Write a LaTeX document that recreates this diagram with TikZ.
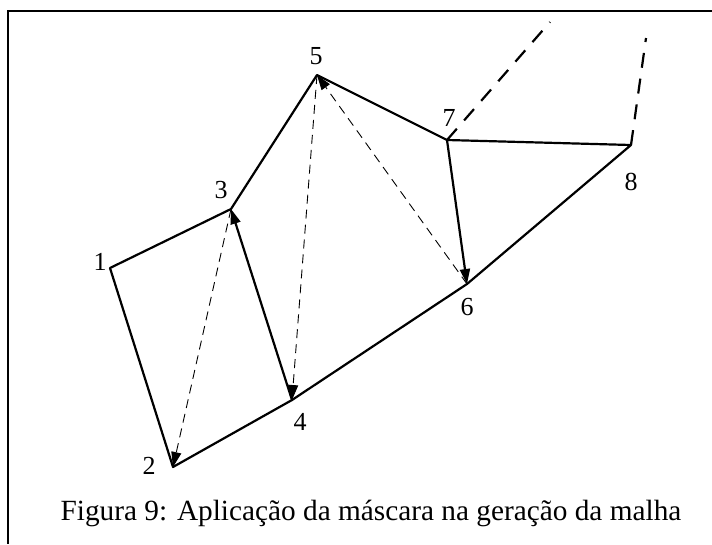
\documentclass[tikz,border=0pt]{standalone}
\usepackage{fontspec}
\setmainfont{Liberation Serif}
\usetikzlibrary{arrows.meta}
\begin{document}
\begin{tikzpicture}[x=1pt,y=-1pt,
  edge/.style={line width=2.2pt,line cap=round,line join=round},
  diag/.style={line width=0.9pt,dash pattern=on 9pt off 6pt},
  ext/.style={line width=2.2pt,dash pattern=on 15pt off 11pt},
  tip/.style={-{Triangle[length=15pt,width=10pt]}},
  lbl/.style={font=\fontsize{26}{28}\selectfont,inner sep=0pt}]
\useasboundingbox (0,0) rectangle (712,544);
% frame
\coordinate (fa) at (712,11);
\coordinate (fb) at (8,11);
\coordinate (fc) at (8,544);
\draw[line width=2.2pt] (fa) -- (fb) -- (fc);
% points
\coordinate (p1) at (110,268);
\coordinate (p2) at (173,467);
\coordinate (p3) at (231,209);
\coordinate (p4) at (292,400);
\coordinate (p5) at (317,75);
\coordinate (p6) at (467,284);
\coordinate (p7) at (447,140);
\coordinate (p8) at (631,145);
\coordinate (e7) at (550,22);
\coordinate (e8) at (646,38);
% solid edges
\draw[edge] (p3) -- (p1) -- (p2) -- (p4) -- (p6) -- (p8) -- (p7) -- (p5) -- (p3);
\draw[edge,tip] (p4) -- (p3);
\draw[edge,tip] (p7) -- (p6);
% dashed diagonals
\draw[diag,tip] (p3) -- (p2);
\draw[diag,tip] (p5) -- (p4);
\draw[diag,tip] (p6) -- (p5);
% extensions
\draw[ext] (p7) -- (e7);
\draw[ext] (p8) -- (e8);
% labels
\node[lbl] (l1) at (100,262) {1};
\node[lbl] (l2) at (149,466) {2};
\node[lbl] (l3) at (221,190) {3};
\node[lbl] (l4) at (300,422) {4};
\node[lbl] (l5) at (316,56) {5};
\node[lbl] (l6) at (467,307) {6};
\node[lbl] (l7) at (449,118) {7};
\node[lbl] (l8) at (631,182) {8};
\node[font=\fontsize{29.3}{32}\selectfont,inner sep=0pt] (cap) at (371,513) {Figura 9: Aplicação da máscara na geração da malha};
\end{tikzpicture}
\end{document}
